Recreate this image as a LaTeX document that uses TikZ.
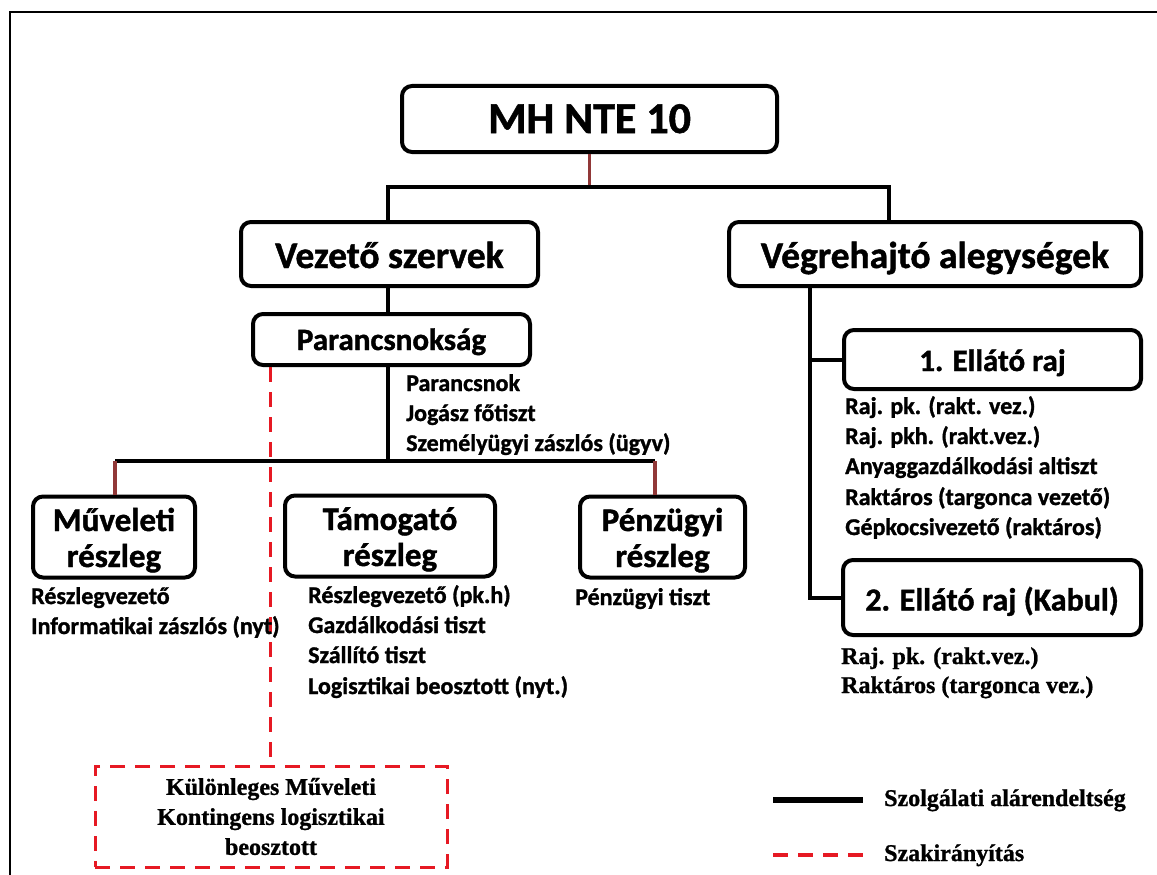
\documentclass[tikz,border=0pt]{standalone}
\usepackage{fontspec}
\newfontfamily\calib{Carlito}[BoldFeatures={FakeBold=1.2}]
\newfontfamily\tnr{Liberation Serif}[BoldFeatures={FakeBold=1}]
\definecolor{brn}{RGB}{145,56,56}
\definecolor{rd}{RGB}{230,25,35}
\tikzset{
  box/.style={draw, line width=4pt, rounded corners=10pt, fill=white, align=center, inner sep=0pt},
  twoline/.style={font=\calib\bfseries\fontsize{33}{36}\selectfont, text height=66pt, text depth=6pt},
  conn/.style={line width=4pt, draw=black},
  brnline/.style={line width=3.5pt, draw=brn},
  reddash/.style={line width=3pt, draw=rd, dash pattern=on 15pt off 10pt},
  item/.style={anchor=west, inner sep=0pt, font=\calib\bfseries\fontsize{24}{30}\selectfont, text height=17pt, text depth=5pt},
  sitem/.style={anchor=west, inner sep=0pt, font=\tnr\bfseries\fontsize{24}{30}\selectfont, text height=17pt, text depth=5pt},
}
\begin{document}
\begin{tikzpicture}[x=1pt,y=-1pt]
\useasboundingbox (0,0) rectangle (1157,875);
% frame
\draw[line width=2.5pt] (10,875) -- (10,12) -- (1157,12);

% boxes
\node[box, minimum width=375pt, minimum height=66pt, text height=34pt, text depth=6pt, font=\calib\bfseries\fontsize{44}{50}\selectfont] (mh) at (589.5,119) {MH NTE 10};
\node[box, minimum width=297pt, minimum height=64pt, text height=34pt, text depth=6pt, font=\calib\bfseries\fontsize{37.5}{42}\selectfont] (vez) at (389.5,254) {Vezető szervek};
\node[box, minimum width=412pt, minimum height=64pt, text height=34pt, text depth=6pt, font=\calib\bfseries\fontsize{37.5}{42}\selectfont] (veg) at (935,254) {Végrehajtó alegységek};
\node[box, minimum width=277pt, minimum height=51pt, text height=25pt, text depth=4pt, font=\calib\bfseries\fontsize{31}{36}\selectfont] (pk) at (391.5,339.5) {Parancsnokság};
\node[box, minimum width=162pt, minimum height=81pt, twoline] (mv) at (114,537) {Műveleti\\részleg};
\node[box, minimum width=210pt, minimum height=81pt, twoline] (tm) at (390,536) {Támogató\\részleg};
\node[box, minimum width=165pt, minimum height=81pt, twoline] (pz) at (662.5,537) {Pénzügyi\\részleg};
\node[box, minimum width=297pt, minimum height=59pt, text height=28pt, text depth=5pt, font=\calib\bfseries\fontsize{31}{36}\selectfont] (e1) at (992.5,359.5) {1. Ellátó raj};
\node[box, minimum width=298pt, minimum height=75pt, text height=31pt, text depth=5pt, font=\calib\bfseries\fontsize{32}{36}\selectfont] (e2) at (992,597.5) {2. Ellátó raj (Kabul)};
\node[draw=rd, line width=3pt, dash pattern=on 15pt off 10pt, minimum width=352pt, minimum height=101pt, inner sep=0pt, align=center, font=\tnr\bfseries\fontsize{24}{30}\selectfont] (sp) at (271,816.5) {Különleges Műveleti\\Kontingens logisztikai\\beosztott};

% junction coordinates
\coordinate (jt) at (590,187);
\coordinate (jl) at (388,187);
\coordinate (jr) at (889,187);
\coordinate (jm) at (388,461);
\coordinate (jml) at (115,461);
\coordinate (jmr) at (655,461);
\coordinate (jv) at (810,288);

% connectors
\draw[brnline] (mh.south) -- (mh.south |- jt);
\draw[conn] (jl |- vez.north) -- (jl) -- (jr) -- (jr |- veg.north);
\draw[conn] (jl |- vez.south) -- (jl |- pk.north);
\draw[conn] (jl |- pk.south) -- (jm);
\draw[conn] (jml) -- (jmr);
\draw[brnline] (jml) -- (jml |- mv.north);
\draw[brnline] (jmr) -- (jmr |- pz.north);
\draw[conn] (jv |- veg.south) |- (e2.west);
\draw[conn] (jv |- e1.west) -- (e1.west);
\draw[reddash] (270,0 |- pk.south) -- (270,0 |- sp.north);

% lists
\node[item] (p1) at (406,385) {Parancsnok};
\node[item] (p2) at (406,415) {Jogász főtiszt};
\node[item] (p3) at (406,445) {Személyügyi zászlós (ügyv)};

\node[item] (m1) at (31,598) {Részlegvezető};
\node[item] (m2) at (31,628) {Informatikai zászlós (nyt)};

\node[item] (t1) at (308,597) {Részlegvezető (pk.h)};
\node[item] (t2) at (308,627) {Gazdálkodási tiszt};
\node[item] (t3) at (308,657) {Szállító tiszt};
\node[item] (t4) at (308,688) {Logisztikai beosztott (nyt.)};

\node[item] (z1) at (575,599) {Pénzügyi tiszt};

\node[item] (a1) at (845,408) {Raj. pk. (rakt. vez.)};
\node[item] (a2) at (845,438) {Raj. pkh. (rakt.vez.)};
\node[item] (a3) at (845,468) {Anyaggazdálkodási altiszt};
\node[item] (a4) at (845,499) {Raktáros (targonca vezető)};
\node[item] (a5) at (845,529) {Gépkocsivezető (raktáros)};

\node[sitem] (b1) at (841,658) {Raj. pk. (rakt.vez.)};
\node[sitem] (b2) at (841,687) {Raktáros (targonca vez.)};

% legend
\coordinate (la1) at (773,800);
\coordinate (la2) at (863,800);
\coordinate (lb1) at (773,855);
\coordinate (lb2) at (863,855);
\draw[line width=6pt] (la1) -- (la2);
\draw[line width=4pt, draw=rd, dash pattern=on 15pt off 10pt] (lb1) -- (lb2);
\node[sitem] (lt1) at (884,800) {Szolgálati alárendeltség};
\node[sitem] (lt2) at (884,855) {Szakirányítás};
\end{tikzpicture}
\end{document}
